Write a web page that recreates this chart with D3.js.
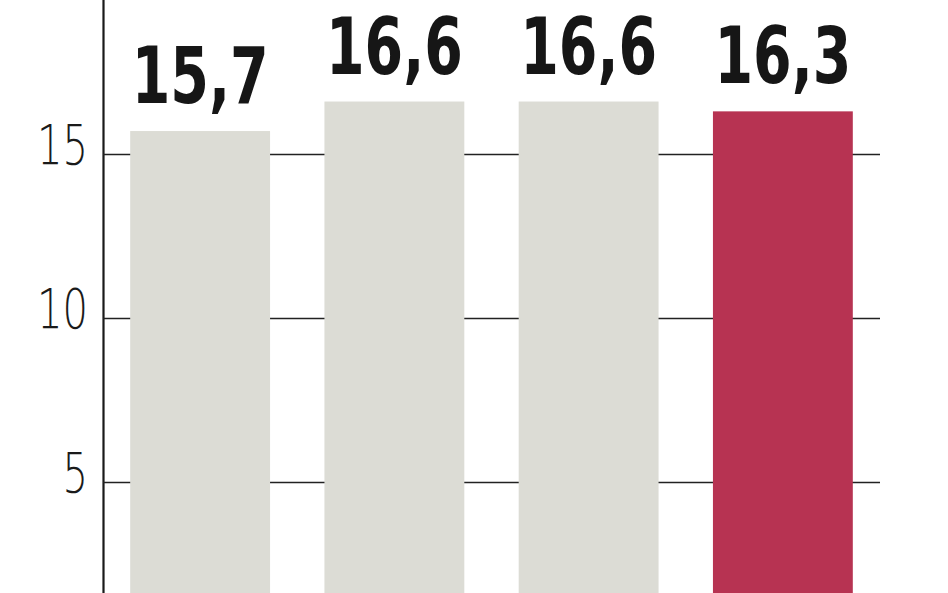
<!DOCTYPE html>
<html>
<head>
<meta charset="utf-8">
<script src="https://cdn.jsdelivr.net/npm/d3@7"></script>
<style>
  body { margin: 0; background: #fff; }
  svg { display: block; }
</style>
</head>
<body>
<svg width="948" height="593"></svg>
<script>
const categories = ['a', 'b', 'c', 'd']
const values = [15.7, 16.6, 16.6, 16.3]
const labels = ['15,7', '16,6', '16,6', '16,3']
const tickValues = [5, 10, 15]

const svg = d3.select('svg')
const left = 103
const right = 880

const x = d3.scaleBand()
  .domain(categories)
  .range([left, right])
  .paddingInner(0.28)
  .paddingOuter(0.14)

const y = d3.scaleLinear()
  .domain([0, 20])
  .range([646, -10])

// gridlines + axis line
const axis = svg.append('g')
  .attr('transform', 'translate(' + left + ',0)')
  .call(d3.axisLeft(y)
    .tickValues(tickValues)
    .tickSizeInner(-(right - left))
    .tickSizeOuter(0)
    .tickPadding(15))

axis.select('.domain')
  .attr('stroke', '#1a1a1a')
  .attr('stroke-width', 2.2)
axis.selectAll('.tick line')
  .attr('stroke', '#222')
  .attr('stroke-width', 1.6)
axis.selectAll('.tick text')
  .attr('dy', 9)
  .attr('fill', '#1a1a1a')
  .style('font-family', '"DejaVu Sans", sans-serif')
  .style('font-weight', 200)
  .style('font-size', '55px')
  .attr('textLength', d => String(d).length * 25.5)
  .attr('lengthAdjust', 'spacingAndGlyphs')

svg.selectAll('.bar')
  .data(values)
  .enter().append('rect')
  .attr('class', 'bar')
  .attr('x', (d, i) => x(categories[i]))
  .attr('y', d => y(d))
  .attr('width', x.bandwidth())
  .attr('height', d => y(0) - y(d))
  .attr('fill', (d, i) => i === values.length - 1 ? '#b73352' : '#dcdcd5')

svg.selectAll('.val')
  .data(values)
  .enter().append('text')
  .attr('class', 'val')
  .attr('x', (d, i) => x(categories[i]) + x.bandwidth() / 2)
  .attr('y', d => y(d) - 28)
  .attr('text-anchor', 'middle')
  .attr('fill', '#161616')
  .style('font-family', '"DejaVu Sans", sans-serif')
  .style('font-weight', 'bold')
  .style('font-size', '78px')
  .attr('textLength', 137)
  .attr('lengthAdjust', 'spacingAndGlyphs')
  .text((d, i) => labels[i])
</script>
</body>
</html>
